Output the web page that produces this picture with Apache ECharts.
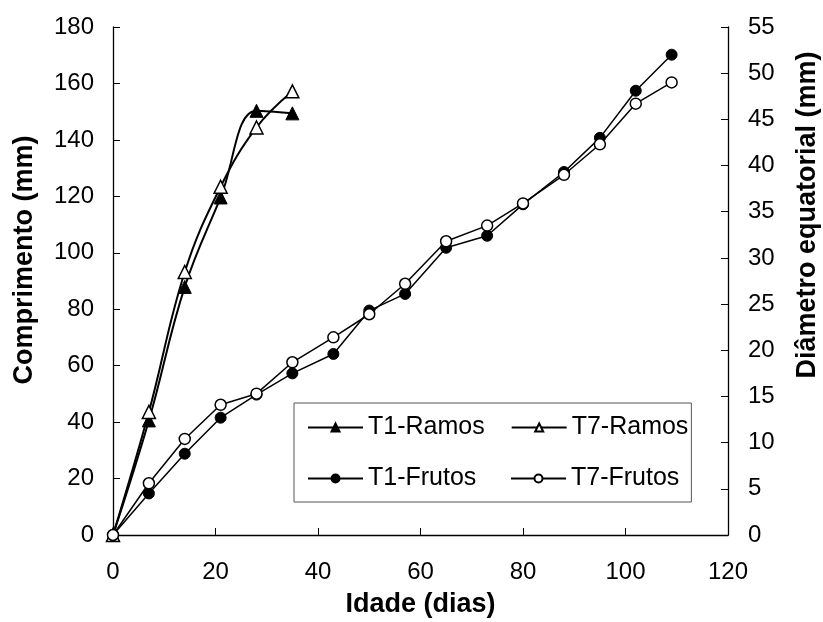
<!DOCTYPE html>
<html>
<head>
<meta charset="utf-8">
<script src="https://cdn.jsdelivr.net/npm/echarts@6/dist/echarts.min.js"></script>
<style>html,body{margin:0;padding:0;background:#fff}#c{width:823px;height:622px}</style>
</head>
<body>
<div id="c"></div>
<script>
// Ramos (branch length, left axis, mm)
const ramosDays = [0, 7, 14, 21, 28, 35];
const t1Ramos = [0, 40.6, 87.9, 119.6, 150.3, 149.4];
const t7Ramos = [0, 43.6, 93.2, 123.4, 144.4, 157.2];
// Frutos (equatorial diameter, right axis, mm)
const frutosDays = [0, 7, 14, 21, 28, 35, 43, 50, 57, 65, 73, 80, 88, 95, 102, 109];
const t1Frutos = [0, 4.5, 8.8, 12.7, 15.2, 17.5, 19.6, 24.3, 26.1, 31.1, 32.4, 35.8, 39.3, 43.0, 48.1, 52.0];
const t7Frutos = [0, 5.6, 10.4, 14.1, 15.3, 18.7, 21.4, 23.9, 27.2, 31.8, 33.5, 35.9, 39.0, 42.3, 46.7, 49.0];
const xTicks = {min: 0, max: 120, interval: 20};
const yLeftTicks = {min: 0, max: 180, interval: 20};
const yRightTicks = {min: 0, max: 55, interval: 5};

const pair = (xs, ys) => xs.map((x, i) => [x, ys[i]]);
const FONT = 'Liberation Sans, Arial, sans-serif';

const chart = echarts.init(document.getElementById('c'), null, {renderer: 'canvas'});
const axisCommon = {
  axisLine: {show: true, lineStyle: {color: '#000', width: 1.3}},
  axisTick: {show: true, inside: true, length: 7, lineStyle: {color: '#000', width: 1}},
  splitLine: {show: false},
  axisLabel: {color: '#000', fontSize: 24, fontFamily: FONT, margin: 19},
  nameTextStyle: {color: '#000', fontSize: 27, fontWeight: 'bold', fontFamily: FONT}
};
chart.setOption({
  animation: false,
  backgroundColor: '#fff',
  grid: {left: 113, right: 95, top: 27, bottom: 87, containLabel: false, outerBoundsMode: 'none'},
  xAxis: Object.assign({}, axisCommon, {
    type: 'value', min: xTicks.min, max: xTicks.max, interval: xTicks.interval,
    name: 'Idade (dias)', nameLocation: 'middle', nameGap: 56,
    axisLabel: Object.assign({}, axisCommon.axisLabel, {margin: 25})
  }),
  yAxis: [
    Object.assign({}, axisCommon, {
      type: 'value', position: 'left', min: yLeftTicks.min, max: yLeftTicks.max, interval: yLeftTicks.interval,
      name: 'Comprimento (mm)', nameLocation: 'middle', nameGap: 75, nameRotate: 90,
      nameTextStyle: Object.assign({}, axisCommon.nameTextStyle, {padding: [0, 0, 0, 42]})
    }),
    Object.assign({}, axisCommon, {
      type: 'value', position: 'right', min: yRightTicks.min, max: yRightTicks.max, interval: yRightTicks.interval,
      name: 'Diâmetro equatorial (mm)', nameLocation: 'middle', nameGap: 66, nameRotate: 90,
      axisLabel: Object.assign({}, axisCommon.axisLabel, {margin: 20}),
      nameTextStyle: Object.assign({}, axisCommon.nameTextStyle, {padding: [0, 0, 0, 132]})
    })
  ],
  legend: {
    left: 294, top: 403, width: 400,
    orient: 'horizontal',
    padding: [12, 3, 11, 13],
    borderColor: '#555', borderWidth: 1, backgroundColor: '#fff',
    itemWidth: 55, itemHeight: 10, itemGap: 26,
    textStyle: {color: '#000', fontSize: 25, fontFamily: FONT, lineHeight: 19, width: 116},
    data: ['T1-Ramos', 'T7-Ramos', 'T1-Frutos', 'T7-Frutos']
  },
  series: [
    {name: 'T1-Ramos', type: 'line', yAxisIndex: 0, data: pair(ramosDays, t1Ramos), smooth: 0.4,
     symbol: 'triangle', symbolSize: 13, lineStyle: {color: '#000', width: 2},
     itemStyle: {color: '#000', borderColor: '#000', borderWidth: 1}},
    {name: 'T7-Ramos', type: 'line', yAxisIndex: 0, data: pair(ramosDays, t7Ramos), smooth: 0.4,
     symbol: 'triangle', symbolSize: 13, lineStyle: {color: '#000', width: 2},
     itemStyle: {color: '#fff', borderColor: '#000', borderWidth: 1.5}},
    {name: 'T1-Frutos', type: 'line', yAxisIndex: 1, data: pair(frutosDays, t1Frutos),
     symbol: 'circle', symbolSize: 11, lineStyle: {color: '#000', width: 1.5},
     itemStyle: {color: '#000', borderColor: '#000', borderWidth: 1}},
    {name: 'T7-Frutos', type: 'line', yAxisIndex: 1, data: pair(frutosDays, t7Frutos),
     symbol: 'circle', symbolSize: 11, lineStyle: {color: '#000', width: 1.5},
     itemStyle: {color: '#fff', borderColor: '#000', borderWidth: 1.5}}
  ]
});
</script>
</body>
</html>
